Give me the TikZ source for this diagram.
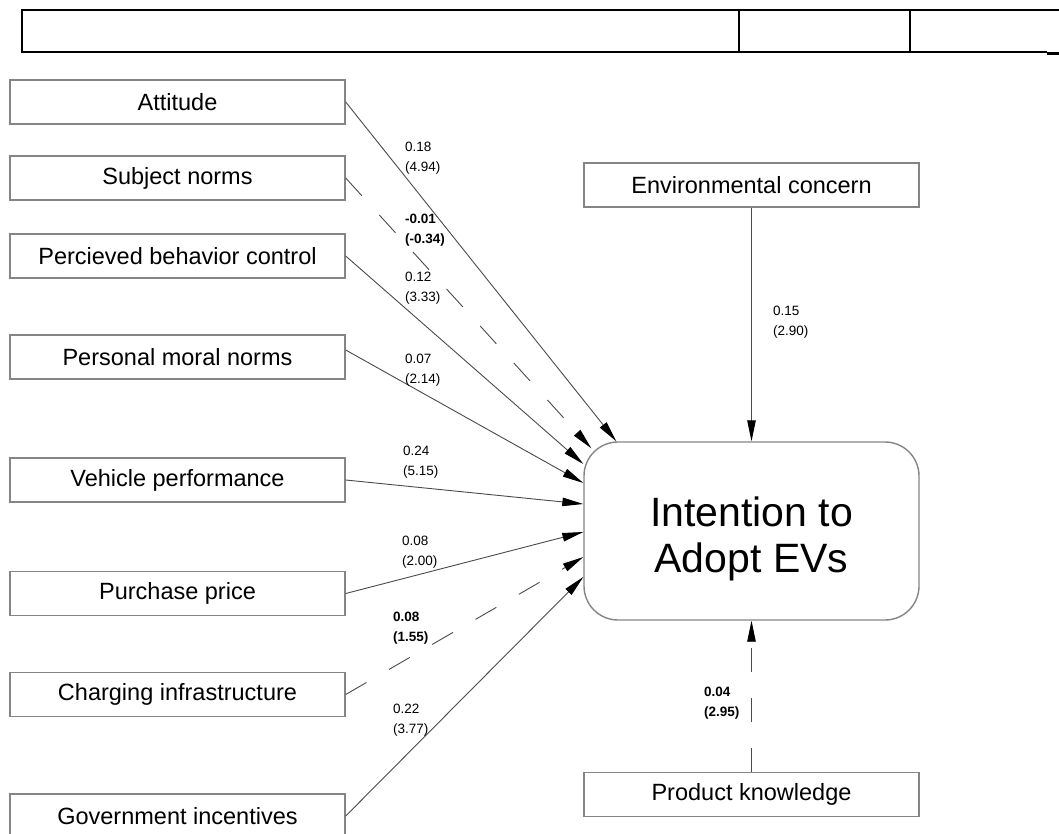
\documentclass[tikz,border=0pt]{standalone}
\usepackage{fontspec}
\setmainfont{Liberation Sans}
\usetikzlibrary{arrows.meta,calc}
\definecolor{boxgray}{HTML}{858585}
\definecolor{linegray}{HTML}{4A4A4A}
\tikzset{
  factor/.style={draw=boxgray,line width=1.4pt,minimum width=335pt,minimum height=44pt,
    inner sep=0pt,font=\fontsize{23.5}{28}\selectfont},
  target/.style={draw=boxgray,line width=1.4pt,rounded corners=34pt,minimum width=335pt,
    minimum height=178pt,align=center,font=\fontsize{41}{46}\selectfont},
  link/.style={draw=linegray,line width=0.9pt,-{Triangle[length=21pt,width=8.5pt,color=black]}},
  weak/.style={link,dash pattern=on 24pt off 26pt},
  coef/.style={anchor=west,align=left,inner sep=0pt,font=\fontsize{13.5}{20}\selectfont},
  frame/.style={line width=2.2pt,black}
}
\begin{document}
\begin{tikzpicture}[x=1pt,y=-1pt]
  \useasboundingbox (0,0) rectangle (1059,834);
  % header bar
  \draw[frame] (1059,10) -- (22,10) -- (22,52) -- (1047,52);
  \draw[frame] (739,10) -- (739,52);
  \draw[frame] (910,10) -- (910,52);
  \draw[line width=2.5pt] (1047,53.5) -- (1059,53.5);
  % predictors
  \node[factor] (att) at (177.5,102) {Attitude};
  \node[factor] (sn)  at (177.5,178) {Subject norms};
  \node[factor] (pbc) at (177.5,256) {Percieved behavior control};
  \node[factor] (pmn) at (177.5,357) {Personal moral norms};
  \node[factor] (vp)  at (177.5,480) {Vehicle performance};
  \node[factor] (pp)  at (177.5,593.5) {Purchase price};
  \node[factor] (ci)  at (177.5,694.5) {Charging infrastructure};
  \node[factor] (gi)  at (177.5,816) {Government incentives};
  \node[factor] (ec)  at (751.5,185) {Environmental concern};
  \node[factor] (pk)  at (751.5,794.5) {Product knowledge};
  % outcome
  \node[target] (iea) at (751.5,531) {\rule{0pt}{45pt}Intention to\\Adopt EVs};
  % paths
  \draw[link] (att.east) -- ($(iea.north west)+(33,0)$);
  \draw[weak] (sn.east)  -- ($(iea.north west)+(8,7)$);
  \draw[link] (pbc.east) -- ($(iea.west)+(0,-67)$);
  \draw[link] ($(pmn.east)+(0,-7)$) -- ($(iea.west)+(0,-48)$);
  \draw[link] (vp.east)  -- ($(iea.west)+(0,-27)$);
  \draw[link] (pp.east)  -- ($(iea.west)+(0,1)$);
  \draw[weak] (ci.east)  -- ($(iea.west)+(0,26)$);
  \draw[link] (gi.east)  -- ($(iea.west)+(0,46)$);
  \draw[link] (ec.south) -- (iea.north);
  \draw[weak] (pk.north) -- (iea.south);
  % coefficients
  \node[coef] (c1)  at (405,158) {0.18\\(4.94)};
  \node[coef] (c2)  at (405,230) {\bfseries -0.01\\\bfseries (-0.34)};
  \node[coef] (c3)  at (405,288) {0.12\\(3.33)};
  \node[coef] (c4)  at (405,370) {0.07\\(2.14)};
  \node[coef] (c5)  at (403,462) {0.24\\(5.15)};
  \node[coef] (c6)  at (402,552) {0.08\\(2.00)};
  \node[coef] (c7)  at (393,628) {\bfseries 0.08\\\bfseries (1.55)};
  \node[coef] (c8)  at (393,720) {0.22\\(3.77)};
  \node[coef] (c9)  at (773,322) {0.15\\(2.90)};
  \node[coef] (c10) at (704,703) {\bfseries 0.04\\\bfseries (2.95)};
\end{tikzpicture}
\end{document}
